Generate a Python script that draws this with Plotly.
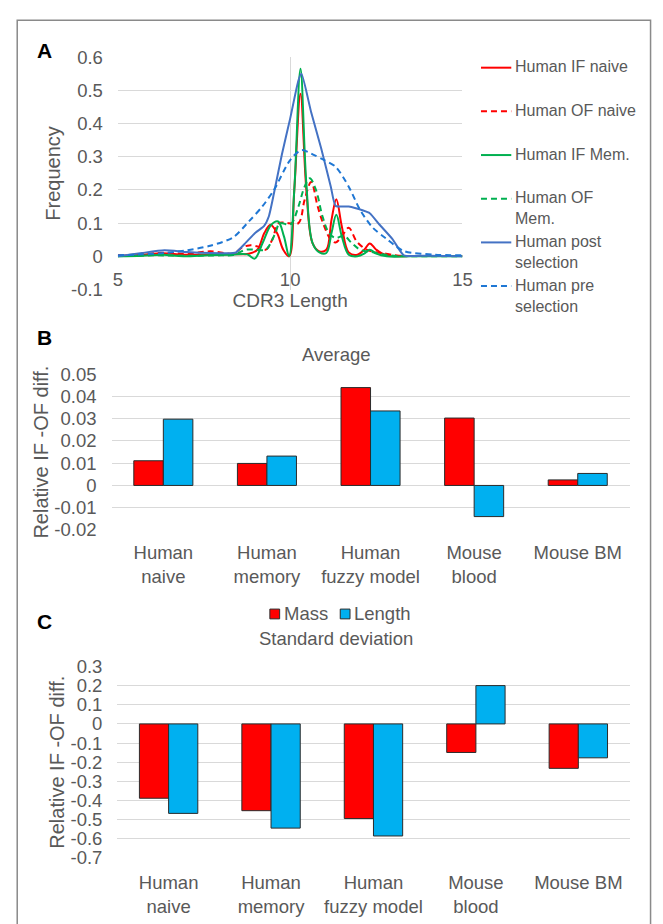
import plotly.graph_objects as go

W, H = 663, 924
def px(x): return x / W
def py(y): return 1 - y / H

FONT = "Liberation Sans, Arial, sans-serif"
GRAY = "#595959"
GRID = "#d9d9d9"

# ---------------- Panel A data ----------------
series_names = ["Human IF naive", "Human OF naive", "Human IF Mem.",
                "Human OF<br>Mem.", "Human post<br>selection", "Human pre<br>selection"]

if_naive_x = [5.0, 5.7, 6.3, 6.9, 7.6, 8.3, 8.8, 9.05, 9.25, 9.43, 9.62, 9.8, 9.97, 10.12, 10.3,
              10.47, 10.65, 10.85, 11.05, 11.2, 11.34, 11.5, 11.7, 11.95, 12.15, 12.31, 12.5, 12.8,
              13.5, 14.3, 15.0]
if_naive_y = [0.002, 0.005, 0.009, 0.005, 0.005, 0.006, 0.008, 0.02, 0.07, 0.095, 0.07, 0.02, 0.0,
              0.2, 0.49, 0.2, 0.04, 0.015, 0.02, 0.11, 0.172, 0.09, 0.012, 0.005, 0.02, 0.039, 0.02,
              0.003, 0.001, 0.001, 0.001]

of_naive_x = [5.0, 5.7, 6.35, 7.0, 7.68, 8.34, 8.62, 8.81, 9.05, 9.29, 9.48, 9.67, 9.95, 10.24,
              10.42, 10.61, 10.8, 10.99, 11.18, 11.32, 11.5, 11.7, 11.93, 12.22, 12.5, 12.78, 13.16,
              14.0, 15.0]
of_naive_y = [0.003, 0.006, 0.011, 0.008, 0.015, 0.009, 0.027, 0.033, 0.03, 0.02, 0.05, 0.1, 0.1,
              0.1, 0.17, 0.224, 0.15, 0.09, 0.05, 0.042, 0.06, 0.086, 0.045, 0.02, 0.012, 0.008,
              0.002, 0.001, 0.001]

if_mem_x = [5.0, 5.7, 6.3, 6.9, 7.6, 8.3, 8.75, 8.97, 9.2, 9.45, 9.65, 9.82, 9.97, 10.12, 10.3,
            10.47, 10.65, 10.85, 11.05, 11.2, 11.34, 11.5, 11.7, 11.95, 12.15, 12.31, 12.5, 12.8,
            13.5, 14.3, 15.0]
if_mem_y = [0.0, 0.002, 0.005, 0.0, 0.003, 0.005, 0.006, -0.007, 0.04, 0.095, 0.105, 0.06, 0.0,
            0.2, 0.565, 0.22, 0.04, 0.012, 0.01, 0.07, 0.125, 0.06, 0.005, 0.0, 0.008, 0.02, 0.008,
            0.0, 0.0, 0.0, 0.0]

of_mem_x = [5.0, 6.0, 7.0, 8.0, 8.35, 8.53, 8.72, 9.0, 9.29, 9.38, 9.57, 9.7, 9.95, 10.05, 10.24,
            10.42, 10.57, 10.75, 10.94, 11.13, 11.32, 11.56, 11.79, 12.03, 12.41, 12.78, 13.16,
            14.0, 15.0]
of_mem_y = [0.0, 0.003, 0.002, 0.003, 0.004, 0.012, 0.02, 0.02, 0.02, 0.03, 0.07, 0.1, 0.095, 0.1,
            0.15, 0.21, 0.235, 0.2, 0.12, 0.07, 0.055, 0.062, 0.04, 0.02, 0.012, 0.005, 0.001,
            0.0, 0.0]

post_x = [5.0, 5.7, 6.35, 7.0, 7.7, 8.34, 8.43, 8.72, 9.0, 9.24, 9.38, 9.53, 9.76, 10.0, 10.24,
          10.33, 10.61, 10.9, 11.18, 11.32, 11.7, 12.12, 12.31, 12.59, 12.97, 13.3, 14.0, 15.0]
post_y = [0.0, 0.01, 0.018, 0.013, 0.01, 0.01, 0.012, 0.042, 0.072, 0.091, 0.12, 0.19, 0.307,
          0.415, 0.53, 0.55, 0.434, 0.326, 0.21, 0.152, 0.15, 0.138, 0.13, 0.096, 0.052, 0.003,
          0.002, 0.0]

pre_x = [5.0, 5.7, 6.35, 7.0, 7.68, 8.34, 8.81, 9.19, 9.53, 10.0, 10.33, 10.7, 10.99, 11.32,
         11.7, 12.03, 12.4, 12.78, 13.3, 14.2, 15.0]
pre_y = [0.003, 0.006, 0.01, 0.018, 0.032, 0.057, 0.106, 0.15, 0.2, 0.29, 0.32, 0.305, 0.29,
         0.27, 0.21, 0.14, 0.086, 0.054, 0.016, 0.005, 0.003]

a_xticks = [5, 10, 15]
a_yticks = [0.6, 0.5, 0.4, 0.3, 0.2, 0.1, 0, -0.1]
a_yticktext = ["0.6", "0.5", "0.4", "0.3", "0.2", "0.1", "0", "-0.1"]

# ---------------- Panels B / C data ----------------
groups = ["Human<br>naive", "Human<br>memory", "Human<br>fuzzy model", "Mouse<br>blood", "Mouse BM"]
bar_series = ["Mass", "Length"]
avg_mass = [0.0111, 0.0099, 0.0440, 0.0303, 0.0025]
avg_length = [0.0298, 0.0132, 0.0335, -0.0140, 0.0054]
sd_mass = [-0.388, -0.453, -0.494, -0.149, -0.232]
sd_length = [-0.467, -0.544, -0.585, 0.200, -0.177]

b_ticks = [0.05, 0.04, 0.03, 0.02, 0.01, 0, -0.01, -0.02]
b_ticktext = ["0.05", "0.04", "0.03", "0.02", "0.01", "0", "-0.01", "-0.02"]
c_ticks = [0.3, 0.2, 0.1, 0, -0.1, -0.2, -0.3, -0.4, -0.5, -0.6, -0.7]
c_ticktext = ["0.3", "0.2", "0.1", "0", "-0.1", "-0.2", "-0.3", "-0.4", "-0.5", "-0.6", "-0.7"]

# ---------------- styles ----------------
line_colors = ["#FF0000", "#FF0000", "#00B050", "#00B050", "#4472C4", "#1F77D4"]
line_dashes = ["solid", "6px,4px", "solid", "6px,4px", "solid", "6px,4px"]
smooth = [1.0, 1.0, 1.0, 1.0, 0.5, 0.8]
bar_colors = ["#FF0000", "#00B0F0"]
EDGE = "#2b2b2b"

fig = go.Figure()

xs = [if_naive_x, of_naive_x, if_mem_x, of_mem_x, post_x, pre_x]
ys = [if_naive_y, of_naive_y, if_mem_y, of_mem_y, post_y, pre_y]
for name, x, y, c, d, s in zip(series_names, xs, ys, line_colors, line_dashes, smooth):
    fig.add_trace(go.Scatter(x=x, y=y, mode="lines", name=name.replace("<br>", " "),
                             line=dict(color=c, width=2, dash=d, shape="spline", smoothing=s),
                             xaxis="x", yaxis="y", showlegend=False))

bar_line = dict(color=EDGE, width=1)
for vals, nm, col in zip([avg_mass, avg_length], bar_series, bar_colors):
    fig.add_trace(go.Bar(x=groups, y=vals, name=nm, marker=dict(color=col, line=bar_line),
                         xaxis="x2", yaxis="y2", showlegend=False))
for vals, nm, col in zip([sd_mass, sd_length], bar_series, bar_colors):
    fig.add_trace(go.Bar(x=groups, y=vals, name=nm, marker=dict(color=col, line=bar_line),
                         xaxis="x3", yaxis="y3", showlegend=False))

tickfont = dict(family=FONT, size=18.5, color=GRAY)
titlefont = dict(family=FONT, size=20, color=GRAY)

fig.update_layout(
    width=W, height=H, margin=dict(l=0, r=0, t=0, b=0),
    paper_bgcolor="white", plot_bgcolor="white",
    font=dict(family=FONT, color=GRAY),
    barmode="group", bargap=0.43, bargroupgap=0,
    showlegend=False,
    # Panel A
    xaxis=dict(domain=[px(115.5), px(468)], range=[5, 15], anchor="free", position=py(251),
               tickvals=a_xticks, ticktext=[str(v) for v in a_xticks], showgrid=True,
               gridcolor=GRID, gridwidth=1, zeroline=False, showline=False, ticks="",
               tickfont=tickfont, ticklabelstandoff=10,
               title=dict(text="CDR3 Length", font=dict(family=FONT, size=19, color=GRAY), standoff=2)),
    yaxis=dict(domain=[py(285), py(47.3)], range=[-0.1, 0.6], anchor="x",
               tickvals=a_yticks, ticktext=a_yticktext, showgrid=True, gridcolor=GRID,
               zeroline=False, showline=False, ticks="", tickfont=tickfont, ticklabelstandoff=14,
               title=dict(text="Frequency", font=titlefont, standoff=4)),
    # Panel B
    xaxis2=dict(domain=[px(109), px(639)], anchor="y2", showgrid=False, zeroline=False,
                showline=False, ticks="", tickfont=tickfont, ticklabelstandoff=10),
    yaxis2=dict(domain=[py(531), py(371.7)], range=[-0.02, 0.05], anchor="x2",
                tickvals=b_ticks, ticktext=b_ticktext, showgrid=True, gridcolor=GRID,
                zeroline=False, showline=False, ticks="", tickfont=tickfont, ticklabelstandoff=14,
                title=dict(text="Relative IF -OF diff.", font=titlefont, standoff=0)),
    # Panel C
    xaxis3=dict(domain=[px(115), px(639)], anchor="y3", showgrid=False, zeroline=False,
                showline=False, ticks="", tickfont=tickfont, ticklabelstandoff=11),
    yaxis3=dict(domain=[py(866.7), py(670.7)], range=[-0.7, 0.3], anchor="x3",
                tickvals=c_ticks, ticktext=c_ticktext, showgrid=True, gridcolor=GRID,
                zeroline=False, showline=False, ticks="", tickfont=tickfont, ticklabelstandoff=14,
                title=dict(text="Relative IF -OF diff.", font=titlefont, standoff=0)),
)

annotations = []
shapes = []

# outer border
shapes.append(dict(type="rect", xref="paper", yref="paper", x0=px(12.5), x1=px(660.5),
                   y0=py(940), y1=py(9.5), line=dict(color="#8a8a8a", width=1.5),
                   fillcolor="rgba(0,0,0,0)", layer="below"))

# panel letters
for letter, yy in zip(["A", "B", "C"], [40, 334, 625]):
    annotations.append(dict(text=letter, x=px(40), y=py(yy), xref="paper", yref="paper",
                            showarrow=False, xanchor="center", yanchor="middle",
                            font=dict(family=FONT, size=21, color="black", weight="bold")))

# panel titles
for title, yy in zip(["Average", "Standard deviation"], [351, 642]):
    annotations.append(dict(text=title, x=px(339), y=py(yy), xref="paper", yref="paper",
                            showarrow=False, xanchor="center", yanchor="middle",
                            font=dict(family=FONT, size=18.5, color=GRAY)))

# legend for panel A
for i, (name, c, d) in enumerate(zip(series_names, line_colors, line_dashes)):
    yc = 58 + i * 44.7
    shapes.append(dict(type="line", xref="paper", yref="paper", x0=px(487), x1=px(518),
                       y0=py(yc), y1=py(yc), line=dict(color=c, width=2, dash=d)))
    annotations.append(dict(text=name, x=px(521), y=py(yc - 10.5), xref="paper", yref="paper",
                            showarrow=False, xanchor="left", yanchor="top", align="left",
                            borderpad=0,
                            font=dict(family=FONT, size=16, color=GRAY)))

# legend for bar series (shown above panel C)
legend_sq_x = [271, 343]
for nm, col, sx in zip(bar_series, bar_colors, legend_sq_x):
    shapes.append(dict(type="rect", xref="paper", yref="paper", x0=px(sx), x1=px(sx + 10),
                       y0=py(622), y1=py(612), fillcolor=col, line=dict(color=EDGE, width=1)))
    annotations.append(dict(text=nm, x=px(sx + 13), y=py(617), xref="paper", yref="paper",
                            showarrow=False, xanchor="left", yanchor="middle", borderpad=0,
                            font=dict(family=FONT, size=18.5, color=GRAY)))

fig.update_layout(annotations=annotations, shapes=shapes)
fig.write_html("out.html")
